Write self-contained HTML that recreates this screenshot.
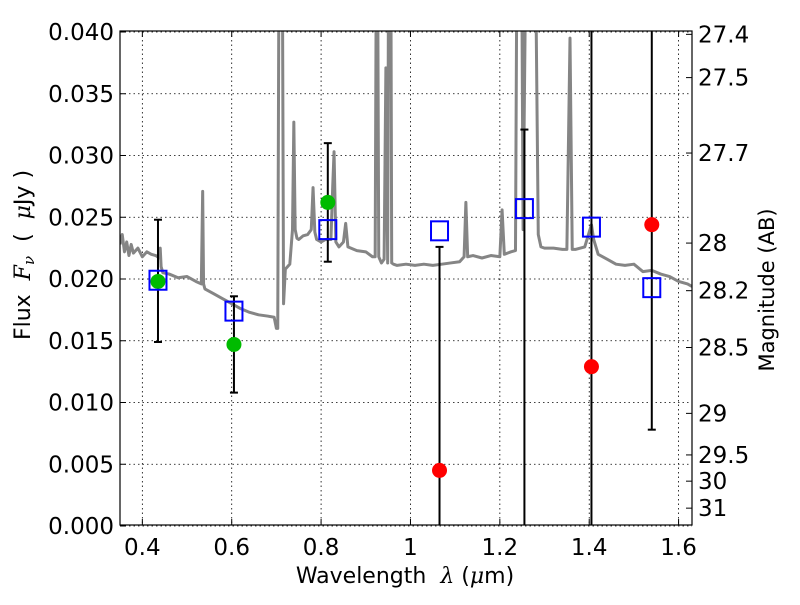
<!DOCTYPE html>
<html><head><meta charset="utf-8"><style>
body{margin:0;background:#fff}
svg{font-family:"DejaVu Sans","Liberation Sans",sans-serif}
</style></head><body>
<svg id="chart" width="800" height="600" xmlns="http://www.w3.org/2000/svg">
<defs><clipPath id="clip"><rect x="120" y="31" width="572" height="494"/></clipPath></defs>
<rect x="0" y="0" width="800" height="600" fill="#fff"/>
<g id="grid"></g>
<g id="spec" clip-path="url(#clip)"></g>
<g id="marks" clip-path="url(#clip)"></g>
<rect x="120" y="31" width="572" height="494" fill="none" stroke="#000" stroke-width="1.2"/>
<g id="axes"></g>
<text x="405" y="583" font-size="22" text-anchor="middle" xml:space="preserve">Wavelength  <tspan font-style="italic" font-family="DejaVu Serif,serif">λ</tspan> (<tspan font-style="italic" font-family="DejaVu Serif,serif">μ</tspan>m)</text>
<text transform="translate(30,255) rotate(-90)" font-size="22" text-anchor="middle" xml:space="preserve">Flux  <tspan font-style="italic" font-family="DejaVu Serif,serif">F</tspan><tspan font-style="italic" font-size="15" dy="4" font-family="DejaVu Serif,serif">ν</tspan><tspan dy="-4">  (  </tspan><tspan font-style="italic" font-family="DejaVu Serif,serif">μ</tspan>Jy )</text>
<text transform="translate(774,290) rotate(-90)" font-size="21" text-anchor="middle">Magnitude (AB)</text>
</svg>
<script>
const specLam=[0.35,0.355,0.36,0.365,0.37,0.375,0.38,0.39,0.40,0.41,0.42,0.43,0.438,0.44,0.442,0.446,0.46,0.48,0.50,0.52,0.532,0.535,0.537,0.54,0.56,0.58,0.60,0.62,0.64,0.66,0.68,0.695,0.700,0.703,0.707,0.712,0.716,0.72,0.73,0.736,0.739,0.742,0.746,0.75,0.76,0.77,0.778,0.782,0.786,0.79,0.80,0.81,0.822,0.826,0.829,0.833,0.84,0.85,0.855,0.86,0.88,0.90,0.915,0.921,0.925,0.929,0.935,0.941,0.945,0.949,0.952,0.955,0.958,0.962,0.97,0.99,1.01,1.03,1.05,1.07,1.09,1.11,1.12,1.124,1.128,1.14,1.16,1.18,1.20,1.205,1.21,1.225,1.235,1.24,1.247,1.252,1.262,1.27,1.276,1.286,1.292,1.30,1.32,1.34,1.35,1.357,1.362,1.37,1.39,1.40,1.405,1.41,1.42,1.44,1.46,1.48,1.50,1.52,1.54,1.56,1.58,1.60,1.62,1.63];
const specFlux=[0.0228,0.0236,0.0222,0.0230,0.0219,0.0228,0.0221,0.0225,0.0218,0.0222,0.0220,0.0219,0.0217,0.0225,0.0210,0.0205,0.0204,0.0201,0.0202,0.0198,0.0196,0.0271,0.0196,0.0192,0.0188,0.0184,0.0180,0.0176,0.0173,0.0171,0.0170,0.0169,0.0160,0.0160,0.0600,0.0600,0.0180,0.0208,0.0212,0.0240,0.0327,0.0240,0.0233,0.0232,0.0235,0.0236,0.0240,0.0274,0.0238,0.0232,0.0230,0.0232,0.0232,0.0275,0.0303,0.0230,0.0226,0.0230,0.0245,0.0226,0.0223,0.0222,0.0218,0.0218,0.0600,0.0218,0.0213,0.0216,0.0371,0.0213,0.0600,0.0600,0.0213,0.0212,0.0211,0.0212,0.0211,0.0212,0.0211,0.0212,0.0213,0.0214,0.0218,0.0262,0.0218,0.0219,0.0217,0.0219,0.0218,0.0256,0.0220,0.0222,0.0223,0.0600,0.0600,0.0240,0.0600,0.0600,0.0600,0.0236,0.0226,0.0225,0.0225,0.0224,0.0224,0.0395,0.0224,0.0224,0.0226,0.0238,0.0244,0.0232,0.0220,0.0216,0.0212,0.0211,0.0212,0.0206,0.0207,0.0204,0.0202,0.0198,0.0196,0.0194];
const bandLam=[0.435,0.605,0.815,1.065,1.255,1.405,1.54];
const modelFlux=[0.0199,0.0174,0.0240,0.0239,0.0257,0.0242,0.0193];
const obsLam=[0.435,0.605,0.815];
const obsFlux=[0.0198,0.0147,0.0262];
const errLow=[0.0149,0.0108,0.0214];
const errHigh=[0.0248,0.0186,0.0310];
const limLam=[1.065,1.255,1.405,1.54];
const limFlux=[0.0045,-0.0005,0.0129,0.0244];
const limLow=[0.0,0.0,0.0,0.0078];
const limHigh=[0.0226,0.0321,0.06,0.06];
const xTicks=[0.4,0.6,0.8,1.0,1.2,1.4,1.6];
const xTickLabels=["0.4","0.6","0.8","1","1.2","1.4","1.6"];
const yTicks=[0,0.005,0.01,0.015,0.02,0.025,0.03,0.035,0.04];
const yTickLabels=["0.000","0.005","0.010","0.015","0.020","0.025","0.030","0.035","0.040"];
const magTicks=[27.4,27.5,27.7,28,28.2,28.5,29,29.5,30,31];
const magTickLabels=["27.4","27.5","27.7","28","28.2","28.5","29","29.5","30","31"];

const NS="http://www.w3.org/2000/svg";
const X=v=>120+(v-0.35)/(1.63-0.35)*572;
const Y=v=>526-v/0.04*494;
const magToFlux=m=>Math.pow(10,(23.9-m)/2.5);
function mk(tag,attrs,parent){const e=document.createElementNS(NS,tag);for(const k in attrs)e.setAttribute(k,attrs[k]);parent.appendChild(e);return e;}
const grid=document.getElementById('grid'),axes=document.getElementById('axes'),spec=document.getElementById('spec'),marks=document.getElementById('marks');

xTicks.forEach((t,i)=>{
  const gl=mk('line',{x1:X(t),x2:X(t),y1:31,y2:525,stroke:'#000','stroke-width':0.8,'stroke-dasharray':'1.5,3'},grid);
  
  
  mk('line',{x1:X(t),x2:X(t),y1:525,y2:519,stroke:'#000'},axes);
  mk('line',{x1:X(t),x2:X(t),y1:31,y2:37,stroke:'#000'},axes);
  const tx=mk('text',{x:X(t),y:555,'font-size':23,'text-anchor':'middle'},axes);
  tx.textContent=xTickLabels[i];
  
  
});
yTicks.forEach((t,i)=>{
  const gl=mk('line',{x1:120,x2:692,y1:Y(t),y2:Y(t),stroke:'#000','stroke-width':0.8,'stroke-dasharray':'1.5,3'},grid);
  
  
  mk('line',{x1:120,x2:126,y1:Y(t),y2:Y(t),stroke:'#000'},axes);
  const tx=mk('text',{x:114,y:Y(t)+8,'font-size':23,'text-anchor':'end'},axes);
  tx.textContent=yTickLabels[i];
  
  
});
magTicks.forEach((m,i)=>{
  const y=Y(magToFlux(m));
  mk('line',{x1:686,x2:692,y1:y,y2:y,stroke:'#000'},axes);
  const tx=mk('text',{x:698,y:y+8,'font-size':23},axes);
  tx.textContent=magTickLabels[i];
  
  
});

const pl=mk('polyline',{points:specLam.map((l,i)=>X(l)+','+Y(specFlux[i])).join(' '),fill:'none',stroke:'#858585','stroke-width':3,'stroke-linejoin':'round'},spec);



function errbar(l,lo,hi){
  const g=mk('g',{stroke:'#000','stroke-width':2},marks);
  
  
  mk('line',{x1:X(l),x2:X(l),y1:Y(lo),y2:Y(hi)},g);
  mk('line',{x1:X(l)-4,x2:X(l)+4,y1:Y(lo),y2:Y(lo)},g);
  mk('line',{x1:X(l)-4,x2:X(l)+4,y1:Y(hi),y2:Y(hi)},g);
}
obsLam.forEach((l,i)=>errbar(l,errLow[i],errHigh[i]));
limLam.forEach((l,i)=>errbar(l,limLow[i],limHigh[i]));
obsLam.forEach((l,i)=>{
  const c=mk('circle',{cx:X(l),cy:Y(obsFlux[i]),r:7.5,fill:'#00bb00'},marks);
  
  
});
limLam.forEach((l,i)=>{
  const c=mk('circle',{cx:X(l),cy:Y(limFlux[i]),r:7.5,fill:'#ff0000'},marks);
  
  
});
bandLam.forEach((l,i)=>{
  const r=mk('rect',{x:X(l)-8.5,y:Y(modelFlux[i])-9.5,width:17,height:19,fill:'none',stroke:'#0000ff','stroke-width':2},marks);
  
  
});
</script>
</body></html>
